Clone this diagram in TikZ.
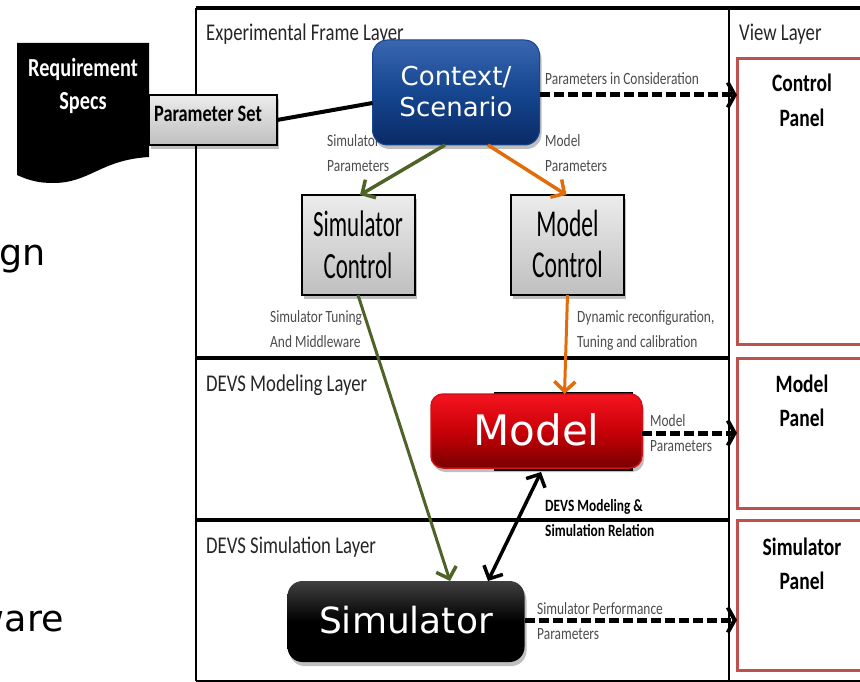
\documentclass[tikz,border=0pt]{standalone}
\usepackage{fontspec}
\setmainfont{Carlito}
\newfontfamily\nar{Carlito}[FakeStretch=0.78]
\newfontfamily\narr{Carlito}[FakeStretch=0.62]
\newfontfamily\lucid{DejaVu Sans}
\usetikzlibrary{arrows.meta,shadows,positioning}
\definecolor{grn}{HTML}{4F6228}
\definecolor{org}{HTML}{E36C0A}
\definecolor{pan}{HTML}{C0504D}
\definecolor{ctxtop}{HTML}{3A66B0}
\definecolor{ctxmid}{HTML}{15468F}
\definecolor{ctxbot}{HTML}{0A2A66}
\definecolor{modtop}{HTML}{F5141E}
\definecolor{modmid}{HTML}{C80008}
\definecolor{modbot}{HTML}{780000}
\tikzset{
 x=1pt,y=-1pt,
 shad/.style={drop shadow={shadow xshift=2pt,shadow yshift=-4pt,fill=black,opacity=.25}},
 framel/.style={line width=4pt,black},
 framet/.style={line width=2.5pt,black},
 graybox/.style={draw=black,line width=2pt,top color=gray!15,bottom color=gray!50,shad,inner sep=0pt,outer sep=0pt,align=center,text=black,font=\narr\fontsize{37}{42}\selectfont},
 bigbox/.style={rounded corners=15pt,inner sep=0pt,outer sep=0pt,align=center,text=white,shad,font=\lucid},
 panelbox/.style={draw=pan,line width=3pt,inner sep=0pt,outer sep=0pt,anchor=north west},
 layertxt/.style={anchor=west,inner sep=0pt,text=black!85,font=\nar\fontsize{24}{26}\selectfont},
 smalltxt/.style={anchor=north west,inner sep=0pt,align=left,text=black!70,font=\nar\fontsize{17.2}{25.5}\selectfont},
 boldtxt/.style={inner sep=0pt,align=center,font=\nar\bfseries\fontsize{25}{34.5}\selectfont},
 conn/.style={line width=3.5pt,-{Straight Barb[length=10pt,width=21pt,line width=3.5pt]}},
 dashconn/.style={line width=5pt,dash pattern=on 10pt off 4pt,-{Straight Barb[length=7pt,width=25pt,line width=4pt]}},
}
\begin{document}
\begin{tikzpicture}
\useasboundingbox (0,0) rectangle (860,682);
\clip (0,0) rectangle (860,682);
% stray slide text
\node[anchor=base west,inner sep=0pt,font=\lucid\fontsize{36.5}{40}\selectfont] (frag1) at (-1,265) {gn};
\node[anchor=base east,inner sep=0pt,font=\lucid\fontsize{36.5}{40}\selectfont] (frag2) at (64,631) {ware};
% frame
\draw[framel] (196,8) -- (860,8);
\draw[framet] (196,8) -- (196,681);
\draw[framet] (729,8) -- (729,681);
\draw[line width=2pt] (196,681) -- (860,681);
\draw[framel] (196,358) -- (729,358);
\draw[framel] (196,520) -- (729,520);
% panels
\node[panelbox,minimum width=140pt,minimum height=286pt] (pc) at (737,58.5) {};
\node[panelbox,minimum width=140pt,minimum height=150pt] (pm) at (737,358.5) {};
\node[panelbox,minimum width=140pt,minimum height=150pt] (ps) at (737,520) {};
\node[boldtxt] (pct) at (802,100.5) {Control\\Panel};
\node[boldtxt] (pmt) at (802,401) {Model\\Panel};
\node[boldtxt] (pst) at (802,564) {Simulator\\Panel};
% layer labels
\node[layertxt] (l1) at (206,34) {Experimental Frame Layer};
\node[layertxt] (l2) at (739,34) {View Layer};
\node[layertxt] (l3) at (206,385) {DEVS Modeling Layer};
\node[layertxt] (l4) at (206,547) {DEVS Simulation Layer};
% requirement document
\fill[black] (17,43) -- (149,43) -- (149,157) .. controls (100,160) and (90,183) .. (53,183) .. controls (40,183) and (30,181) .. (17,175) -- cycle;
\node[boldtxt,text=white,font=\nar\bfseries\fontsize{26}{33}\selectfont] (req) at (83,86) {Requirement\\Specs};
% boxes
\node[graybox,minimum width=128pt,minimum height=50pt] (pset) at (213,120) {};
\node[anchor=center,inner sep=0pt,font=\nar\bfseries\fontsize{23.5}{30}\selectfont] (psett) at (208,114) {Parameter Set};
\node[graybox,minimum width=113pt,minimum height=100pt] (simc) at (358,245) {Simulator\\Control};
\node[graybox,minimum width=113pt,minimum height=100pt,font=\narr\fontsize{38}{41}\selectfont] (modc) at (567.5,245) {\raisebox{3pt}{Model}\\\raisebox{3pt}{Control}};
\fill[black] (494,392) rectangle (633,471);
\node[smalltxt] (a1) at (327,134) {Simulator\\Parameters};
\node[bigbox,draw=ctxmid,line width=1pt,top color=ctxtop,bottom color=ctxbot,middle color=ctxmid,minimum width=167pt,minimum height=105pt,font=\lucid\fontsize{26}{31.5}\selectfont] (ctx) at (456,92.5) {\raisebox{2pt}{Context/}\\\raisebox{2pt}{Scenario}};
\node[bigbox,draw=modtop!85!black,line width=1.5pt,top color=modtop,bottom color=modbot,middle color=modmid,minimum width=211pt,minimum height=74pt,rounded corners=12pt,font=\lucid\fontsize{42}{48}\selectfont] (mod) at (536.5,431) {\raisebox{3pt}{Model}};
\node[bigbox,top color=black!75,bottom color=black,middle color=black,minimum width=237pt,minimum height=81pt,font=\lucid\fontsize{36}{44}\selectfont] (sim) at (406,621.5) {\raisebox{3pt}{Simulator}};
% connectors
\draw[line width=4pt] (pset.east |- 0,120) -- (ctx.west |- 0,103);
\draw[conn,grn] ([xshift=-11pt]ctx.south) -- ([xshift=2pt]simc.north);
\draw[conn,org] ([xshift=32pt]ctx.south) -- ([xshift=-1pt]modc.north);
\draw[conn,grn,line width=3pt] (simc.south) -- ([xshift=44pt]sim.north);
\draw[conn,org,line width=3pt] (modc.south) -- ([xshift=28pt]mod.north);
\draw[line width=3.5pt,{Straight Barb[length=10pt,width=21pt,line width=3.5pt]}-{Straight Barb[length=10pt,width=21pt,line width=3.5pt]}] ([xshift=4.5pt,yshift=-4pt]mod.south) -- ([xshift=82pt]sim.north);
\draw[dashconn] (ctx.east |- 0,95) -- (pc.west |- 0,95);
\draw[dashconn] (mod.east |- 0,433) -- (pm.west |- 0,433);
\draw[dashconn] (sim.east |- 0,620) -- (ps.west |- 0,620);
% small labels
\node[smalltxt] (a2) at (545,134) {Model\\Parameters};
\node[smalltxt] (a3) at (545,72) {Parameters in Consideration};
\node[smalltxt] (a4) at (270,310) {Simulator Tuning\\And Middleware};
\node[smalltxt] (a5) at (577,310) {Dynamic reconfiguration,\\Tuning and calibration};
\node[smalltxt] (a6) at (650,414) {Model\\Parameters};
\node[smalltxt] (a7) at (537,602) {Simulator Performance\\Parameters};
\node[smalltxt,text=black,font=\nar\bfseries\fontsize{17.2}{25.5}\selectfont] (a8) at (545,499) {DEVS Modeling \&\\Simulation Relation};
\end{tikzpicture}
\end{document}
